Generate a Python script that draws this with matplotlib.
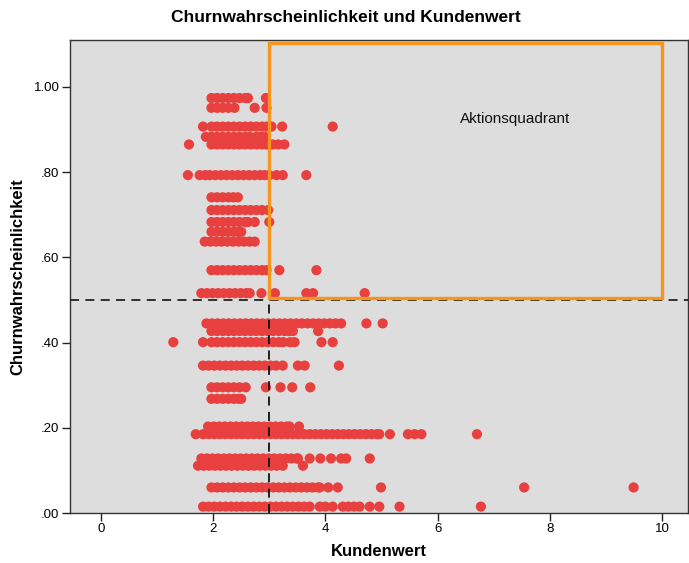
import matplotlib
matplotlib.use('Agg')
from matplotlib import pyplot as plt
from matplotlib.patches import Rectangle

# Churn-Stufen (y) und Kundenwerte (x) je Stufe
churn_levels = [0.974, 0.951, 0.907, 0.883, 0.865, 0.793, 0.741, 0.711, 0.683,
                0.660, 0.637, 0.570, 0.516, 0.445, 0.427, 0.401, 0.346, 0.295,
                0.268, 0.203, 0.185, 0.128, 0.111, 0.060, 0.015]

kundenwert_rows = [
    [1.97, 2.07, 2.17, 2.27, 2.37, 2.47, 2.57, 2.62, 2.94],
    [1.97, 2.07, 2.17, 2.27, 2.38, 2.74, 2.95],
    [1.82, 1.97, 2.07, 2.17, 2.27, 2.37, 2.47, 2.57, 2.67, 2.77, 2.87, 2.95, 3.04, 3.23, 4.13],
    [1.87, 1.97, 2.07, 2.17, 2.27, 2.37, 2.47, 2.57, 2.65, 2.77, 2.85, 2.92],
    [1.57, 1.97, 2.07, 2.17, 2.27, 2.37, 2.47, 2.57, 2.67, 2.77, 2.87, 2.95, 3.06, 3.16, 3.27],
    [1.55, 1.76, 1.86, 1.94, 2.04, 2.14, 2.24, 2.34, 2.44, 2.54, 2.64, 2.74, 2.84, 2.92, 3.00,
     3.13, 3.24, 3.66],
    [1.97, 2.07, 2.17, 2.27, 2.36, 2.44],
    [1.97, 2.07, 2.17, 2.27, 2.37, 2.47, 2.57, 2.67, 2.77, 2.87, 2.98],
    [1.97, 2.07, 2.17, 2.27, 2.37, 2.47, 2.57, 2.62, 2.74, 3.00],
    [1.97, 2.07, 2.17, 2.27, 2.37, 2.45, 2.50],
    [1.85, 1.95, 2.05, 2.15, 2.25, 2.35, 2.45, 2.55, 2.65, 2.74],
    [1.97, 2.07, 2.17, 2.27, 2.37, 2.47, 2.57, 2.67, 2.77, 2.87, 2.95, 3.18, 3.84],
    [1.79, 1.89, 1.99, 2.09, 2.19, 2.29, 2.39, 2.49, 2.59, 2.65, 2.86, 3.10, 3.66, 3.78, 4.70],
    [1.88, 1.98, 2.08, 2.18, 2.28, 2.38, 2.48, 2.58, 2.68, 2.78, 2.88, 2.98, 3.08, 3.18, 3.28,
     3.38, 3.48, 3.58, 3.68, 3.78, 3.88, 3.98, 4.08, 4.18, 4.28, 4.73, 5.02],
    [1.97, 2.07, 2.17, 2.27, 2.37, 2.47, 2.57, 2.67, 2.77, 2.87, 2.97, 3.07, 3.17, 3.27, 3.35,
     3.42, 3.87],
    [1.29, 1.82, 1.97, 2.07, 2.17, 2.27, 2.37, 2.47, 2.57, 2.67, 2.77, 2.87, 2.97, 3.07, 3.17,
     3.25, 3.37, 3.45, 3.93, 4.13],
    [1.82, 1.92, 2.02, 2.12, 2.22, 2.32, 2.42, 2.52, 2.62, 2.72, 2.82, 2.92, 3.02, 3.12, 3.24,
     3.51, 3.63, 4.24],
    [1.97, 2.07, 2.17, 2.27, 2.37, 2.47, 2.58, 2.94, 3.20, 3.41, 3.73],
    [1.97, 2.07, 2.17, 2.27, 2.37, 2.45, 2.50],
    [1.91, 2.01, 2.11, 2.21, 2.31, 2.41, 2.51, 2.61, 2.71, 2.81, 2.91, 3.01, 3.11, 3.21, 3.31,
     3.36, 3.53],
    [1.69, 1.82, 1.92, 2.02, 2.12, 2.22, 2.32, 2.42, 2.52, 2.62, 2.72, 2.82, 2.92, 3.02, 3.12,
     3.22, 3.32, 3.42, 3.52, 3.62, 3.72, 3.82, 3.92, 4.02, 4.12, 4.22, 4.32, 4.42, 4.52, 4.62,
     4.72, 4.82, 4.92, 4.96, 5.15, 5.47, 5.59, 5.71, 6.70],
    [1.79, 1.89, 1.99, 2.09, 2.19, 2.29, 2.39, 2.49, 2.59, 2.69, 2.79, 2.89, 2.99, 3.09, 3.19,
     3.29, 3.39, 3.49, 3.51, 3.72, 3.91, 4.10, 4.28, 4.37, 4.79],
    [1.73, 1.83, 1.93, 2.03, 2.13, 2.23, 2.33, 2.43, 2.53, 2.63, 2.73, 2.83, 2.93, 3.03, 3.13,
     3.24, 3.60],
    [1.97, 2.07, 2.17, 2.27, 2.37, 2.47, 2.57, 2.67, 2.77, 2.87, 2.97, 3.07, 3.17, 3.27, 3.37,
     3.47, 3.57, 3.67, 3.77, 3.87, 3.90, 4.05, 4.22, 4.99, 7.54, 9.49],
    [1.82, 1.92, 2.02, 2.12, 2.22, 2.32, 2.42, 2.52, 2.62, 2.72, 2.82, 2.92, 3.02, 3.12, 3.22,
     3.32, 3.42, 3.52, 3.62, 3.72, 3.90, 4.00, 4.13, 4.31, 4.41, 4.51, 4.61, 4.79, 4.96, 5.32,
     6.77],
]

x_ticks = [0, 2, 4, 6, 8, 10]
y_ticks = [0.0, 0.2, 0.4, 0.6, 0.8, 1.0]
y_tick_labels = ['.00', '.20', '.40', '.60', '.80', '1.00']

font = ['Liberation Sans', 'DejaVu Sans']

fig = plt.figure(figsize=(6.89, 5.63), dpi=100)
ax = fig.add_axes([0.1016, 0.0888, 0.897, 0.840])
ax.set_facecolor('#dcdddc')

xs = []
ys = []
for lvl, row in zip(churn_levels, kundenwert_rows):
    xs += row
    ys += [lvl] * len(row)
ax.scatter(xs, ys, s=54, color='#e8403f', edgecolors='none', zorder=2)

# Referenzlinien
ax.axhline(0.5, color='#222222', lw=1.3, ls=(0, (5, 3.5)), zorder=3)
ax.axvline(3, color='#111111', lw=1.3, ls=(0, (5, 3.5)), zorder=3)

# Aktionsquadrant
ax.add_patch(Rectangle((3, 0.505), 7, 0.597, fill=False, edgecolor='#f7941d',
                       lw=2.4, zorder=4))
ax.text(6.4, 0.925, 'Aktionsquadrant', fontsize=11, family=font,
        va='center', ha='left', color='#111111')

ax.set_xlim(-0.55, 10.46)
ax.set_ylim(0, 1.11)
ax.set_xticks(x_ticks)
ax.set_xticklabels([str(t) for t in x_ticks], family=font, fontsize=9.5)
ax.set_yticks(y_ticks)
ax.set_yticklabels(y_tick_labels, family=font, fontsize=9.5)
ax.tick_params(direction='out', length=6, width=1, color='#222222', pad=1.5)

for sp in ax.spines.values():
    sp.set_color('#333333')
    sp.set_linewidth(1)

ax.set_xlabel('Kundenwert', family=font, fontsize=12, fontweight='bold', labelpad=6)
ax.set_ylabel('Churnwahrscheinlichkeit', family=font, fontsize=12, fontweight='bold',
              labelpad=6)
fig.suptitle('Churnwahrscheinlichkeit und Kundenwert', family=font, fontsize=12.5,
             fontweight='bold', x=0.502, y=0.982)

plt.savefig('out.png', dpi=100)
